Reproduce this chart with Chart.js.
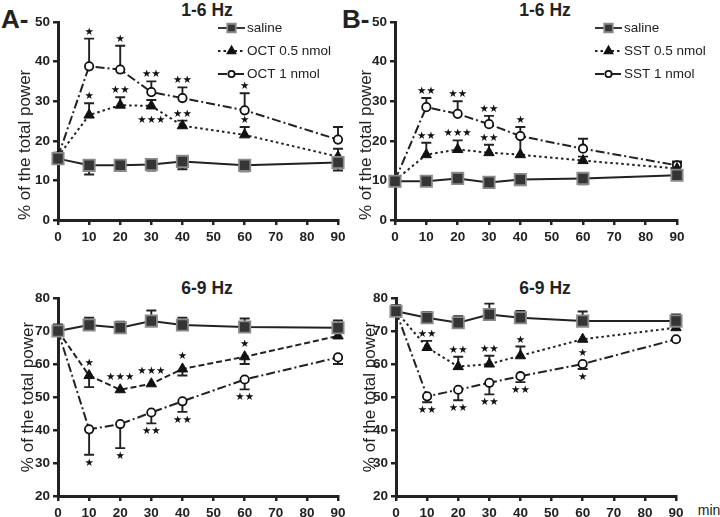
<!DOCTYPE html>
<html>
<head>
<meta charset="utf-8">
<script src="https://cdn.jsdelivr.net/npm/chart.js@4.4.1/dist/chart.umd.min.js"></script>
<style>
  body { margin: 0; background: #fff; width: 720px; height: 517px; position: relative; overflow: hidden;
         font-family: "Liberation Sans", Arial, sans-serif; color: #222; }
  .box { position: absolute; }
  .ttl { position: absolute; font-weight: bold; font-size: 17.5px; transform: translate(-50%, -50%); white-space: nowrap; }
  .lab { position: absolute; font-weight: bold; font-size: 26px; line-height: 26px; }
  .min { position: absolute; font-size: 14px; transform: translate(-50%, -50%); }
</style>
</head>
<body>
<div class="lab" style="left:1px; top:6px;">A-</div>
<div class="lab" style="left:342px; top:6px;">B-</div>
<div class="ttl" style="left:207px; top:10px;">1-6 Hz</div>
<div class="ttl" style="left:545px; top:10px;">1-6 Hz</div>
<div class="ttl" style="left:207px; top:288px;">6-9 Hz</div>
<div class="ttl" style="left:545px; top:288px;">6-9 Hz</div>
<div class="min" style="left:709px; top:510px;">min</div>

<div class="box" style="left:11px; top:0px;"><canvas id="a16" width="349" height="250"></canvas></div>
<div class="box" style="left:352px; top:0px;"><canvas id="b16" width="368" height="250"></canvas></div>
<div class="box" style="left:14px; top:250px;"><canvas id="a69" width="346" height="267"></canvas></div>
<div class="box" style="left:356px; top:250px;"><canvas id="b69" width="364" height="267"></canvas></div>

<script>
var minutes = [0, 10, 20, 30, 40, 60, 90];

// A - OCT, 1-6 Hz
var salineA16 = [15.5, 13.8, 13.8, 14.0, 14.8, 13.8, 14.5];
var salineA16Err = [1.5, -2.3, -1.2, -1.5, -2.0, -1.5, -2.0];
var oct05A16 = [16.0, 26.5, 29.0, 28.8, 23.8, 21.5, 16.0];
var oct05A16Err = [0, 3.0, 2.0, 1.5, 1.3, 2.0, 2.0];
var oct05A16Stars = ['', '★', '★★', '★★★', '★★', '★', ''];
var oct05A16Side = ['', 'u', 'u', 'd', 'u', 'u', ''];
var oct1A16 = [16.0, 38.8, 38.0, 32.3, 30.8, 27.7, 20.3];
var oct1A16Err = [0, 7.0, 6.0, 2.7, 2.7, 4.3, 3.2];
var oct1A16Stars = ['', '★', '★', '★★', '★★', '★', ''];
var oct1A16Side = ['', 'u', 'u', 'u', 'u', 'u', ''];

// B - SST, 1-6 Hz
var salineB16 = [9.8, 9.8, 10.5, 9.5, 10.2, 10.5, 11.3];
var salineB16Err = [-1.0, -1.2, -0.8, -1.3, -1.0, -1.5, 3.5];
var sst05B16 = [10.0, 16.5, 17.8, 17.0, 16.5, 15.0, 13.0];
var sst05B16Err = [0, 3.0, 2.3, 2.0, 4.5, 1.0, 1.5];
var sst05B16Stars = ['', '★★', '★★★', '★★', '', '', ''];
var sst05B16Side = ['', 'u', 'u', 'u', '', '', ''];
var sst1B16 = [10.0, 28.5, 26.8, 24.2, 21.2, 18.0, 13.8];
var sst1B16Err = [0, 2.3, 3.2, 2.1, 2.3, 2.5, 0.8];
var sst1B16Stars = ['', '★★', '★★', '★★', '★', '', ''];
var sst1B16Side = ['', 'u', 'u', 'u', 'u', '', ''];

// A - OCT, 6-9 Hz
var salineA69 = [70.0, 71.8, 71.0, 73.0, 71.8, 71.2, 71.0];
var salineA69Err = [2.0, 2.2, 1.8, 3.2, 2.2, 2.6, 2.2];
var oct05A69 = [70.0, 56.5, 52.2, 54.0, 58.5, 62.2, 68.5];
var oct05A69Err = [0, -3.5, 0, 0, -2.0, -2.2, 0];
var oct05A69Stars = ['', '★', '★★★', '★★★', '★', '★', ''];
var oct05A69Side = ['', 'u', 'u', 'u', 'u', 'u', ''];
var oct1A69 = [70.0, 40.2, 41.8, 45.3, 48.7, 55.3, 62.0];
var oct1A69Err = [0, -7.7, -7.3, -3.3, -3.2, -3.0, -2.0];
var oct1A69Stars = ['', '★', '★', '★★', '★★', '★★', ''];
var oct1A69Side = ['', 'd', 'd', 'd', 'd', 'd', ''];

// B - SST, 6-9 Hz
var salineB69 = [76.0, 74.0, 72.5, 75.0, 74.0, 73.0, 73.0];
var salineB69Err = [1.8, 1.8, 2.0, 3.3, 2.1, 2.9, 2.0];
var sst05B69 = [76.0, 65.0, 59.2, 60.0, 62.5, 67.5, 71.0];
var sst05B69Err = [0, 2.0, 3.0, 2.5, 2.8, 0, 0];
var sst05B69Stars = ['', '★★', '★★', '★★', '★', '★', ''];
var sst05B69Side = ['', 'u', 'u', 'u', 'u', 'd', ''];
var sst1B69 = [76.0, 50.2, 52.2, 54.3, 56.3, 60.0, 67.5];
var sst1B69Err = [0, -1.8, -3.2, -3.5, -1.8, -1.5, 0];
var sst1B69Stars = ['', '★★', '★★', '★★', '★★', '★', ''];
var sst1B69Side = ['', 'd', 'd', 'd', 'd', 'd', ''];

var yTicks16 = [0, 50];
var yTicks69 = [20, 80];

var FONT = '"Liberation Sans", Arial, sans-serif';
var INK = '#222';

var salineStyle = { pointStyle: 'rect', pointRadius: 8, pointBackgroundColor: '#353535', pointBorderColor: '#8a8a8a', pointBorderWidth: 1.8, borderDash: [] };
var lowStyle = { pointStyle: 'triangle', pointRadius: 6, pointBackgroundColor: '#111', pointBorderColor: '#111', pointBorderWidth: 1, borderDash: [2.5, 3] };
var highStyle = { pointStyle: 'circle', pointRadius: 4.2, pointBackgroundColor: '#fff', pointBorderColor: '#111', pointBorderWidth: 1.8, borderDash: [9, 3, 2, 3] };

function series(label, vals, errs, stars, sides, style) {
  var ds = {
    label: label,
    data: vals.map(function(v, i) { return { x: minutes[i], y: v }; }),
    vals: vals, errs: errs, stars: stars || [], sides: sides || [],
    borderColor: INK, borderWidth: 2, tension: 0, clip: false, showLine: true
  };
  for (var k in style) ds[k] = style[k];
  return ds;
}

// error bars, significance stars and the small legend
var panelMarks = {
  id: 'panelMarks',
  beforeDatasetsDraw: function(chart) {
    var ctx = chart.ctx, xs = chart.scales.x, ys = chart.scales.y;
    ctx.save();
    ctx.strokeStyle = INK; ctx.lineWidth = 1.9; ctx.setLineDash([]);
    chart.data.datasets.forEach(function(ds) {
      ds.errs.forEach(function(e, i) {
        if (!e) return;
        var x = xs.getPixelForValue(minutes[i]);
        var y0 = ys.getPixelForValue(ds.vals[i]);
        var y1 = ys.getPixelForValue(ds.vals[i] + e);
        ctx.beginPath();
        ctx.moveTo(x, y0); ctx.lineTo(x, y1);
        ctx.moveTo(x - 5, y1); ctx.lineTo(x + 5, y1);
        ctx.stroke();
      });
    });
    ctx.restore();
  },
  afterDatasetsDraw: function(chart) {
    var ctx = chart.ctx, xs = chart.scales.x, ys = chart.scales.y;
    ctx.save();
    ctx.font = '10.5px "DejaVu Sans"';
    ctx.textAlign = 'center';
    ctx.fillStyle = '#111';
    var m = ctx.measureText('★');
    var asc = m.actualBoundingBoxAscent, desc = m.actualBoundingBoxDescent;
    chart.data.datasets.forEach(function(ds) {
      ds.stars.forEach(function(s, i) {
        if (!s) return;
        var v = ds.vals[i], e = ds.errs[i] || 0;
        var x = xs.getPixelForValue(minutes[i]);
        var yA;
        if (ds.sides[i] === 'u') {
          yA = ys.getPixelForValue(Math.max(v, v + e)) - (e > 0 ? 3 : ds.pointRadius + 3);
          ctx.fillText(s, x, yA - desc);
        } else {
          yA = ys.getPixelForValue(Math.min(v, v + e)) + (e < 0 ? 3 : ds.pointRadius + 3);
          ctx.fillText(s, x, yA + asc);
        }
      });
    });
    ctx.restore();
  },
  afterDraw: function(chart, args, opts) {
    if (!opts.legend) return;
    var ctx = chart.ctx, lg = opts.legend;
    ctx.save();
    chart.data.datasets.forEach(function(ds, i) {
      var y = lg.y + i * 23;
      ctx.strokeStyle = INK; ctx.lineWidth = 1.8;
      ctx.setLineDash(ds.borderDash);
      ctx.beginPath(); ctx.moveTo(lg.x, y); ctx.lineTo(lg.x + 27, y); ctx.stroke();
      ctx.setLineDash([]);
      ctx.fillStyle = ds.pointBackgroundColor;
      ctx.strokeStyle = ds.pointBorderColor;
      Chart.helpers.drawPoint(ctx, { pointStyle: ds.pointStyle, radius: ds.pointRadius * 0.75, borderWidth: ds.pointBorderWidth, rotation: 0 }, lg.x + 13.5, y);
      ctx.fillStyle = INK;
      ctx.font = '13.5px ' + FONT;
      ctx.textAlign = 'left'; ctx.textBaseline = 'middle';
      ctx.fillText(ds.label, lg.x + 29, y);
    });
    ctx.restore();
  }
};

function panel(id, datasets, yRange, yWidth, xHeight, pad, titleAlign, legend) {
  var tickFont = { family: FONT, size: 13.5, weight: 'bold' };
  var grid = { display: true, drawOnChartArea: false, drawTicks: true, tickLength: 5, lineWidth: 2.5, color: INK };
  var border = { display: true, width: 3, color: INK };
  return new Chart(document.getElementById(id), {
    type: 'line',
    data: { datasets: datasets },
    options: {
      responsive: false, animation: false, devicePixelRatio: 1,
      layout: { padding: pad },
      plugins: { legend: { display: false }, tooltip: { enabled: false }, panelMarks: { legend: legend } },
      scales: {
        x: {
          type: 'linear', min: 0, max: 90,
          ticks: { stepSize: 10, font: tickFont, color: INK, padding: 4, maxRotation: 0 },
          grid: grid, border: border,
          afterFit: function(s) { s.height = xHeight; }
        },
        y: {
          type: 'linear', min: yRange[0], max: yRange[1],
          ticks: { stepSize: 10, font: tickFont, color: INK, padding: 3 },
          grid: grid, border: border,
          title: { display: true, text: '% of the total power', align: titleAlign, color: INK,
                   font: { family: FONT, size: 17 }, padding: { top: 4, bottom: 0 } },
          afterFit: function(s) { s.width = yWidth; }
        }
      }
    },
    plugins: [panelMarks]
  });
}

panel('a16', [
  series('saline', salineA16, salineA16Err, null, null, salineStyle),
  series('OCT 0.5 nmol', oct05A16, oct05A16Err, oct05A16Stars, oct05A16Side, lowStyle),
  series('OCT 1 nmol', oct1A16, oct1A16Err, oct1A16Stars, oct1A16Side, highStyle)
], yTicks16, 47, 30, { left: 0, right: 22, top: 22, bottom: 0 }, 'start', { x: 207, y: 28 });

panel('b16', [
  series('saline', salineB16, salineB16Err, null, null, salineStyle),
  series('SST 0.5 nmol', sst05B16, sst05B16Err, sst05B16Stars, sst05B16Side, lowStyle),
  series('SST 1 nmol', sst1B16, sst1B16Err, sst1B16Stars, sst1B16Side, highStyle)
], yTicks16, 43, 30, { left: 0, right: 43, top: 22, bottom: 0 }, 'start', { x: 243, y: 28 });

var lowDashed = {};
for (var k in lowStyle) lowDashed[k] = lowStyle[k];
lowDashed.borderDash = [6, 3];

panel('a69', [
  series('saline', salineA69, salineA69Err, null, null, salineStyle),
  series('OCT 0.5 nmol', oct05A69, oct05A69Err, oct05A69Stars, oct05A69Side, lowDashed),
  series('OCT 1 nmol', oct1A69, oct1A69Err, oct1A69Stars, oct1A69Side, highStyle)
], yTicks69, 44, 21, { left: 0, right: 22, top: 48, bottom: 0 }, 'center', null);

panel('b69', [
  series('saline', salineB69, salineB69Err, null, null, salineStyle),
  series('SST 0.5 nmol', sst05B69, sst05B69Err, sst05B69Stars, sst05B69Side, lowStyle),
  series('SST 1 nmol', sst1B69, sst1B69Err, sst1B69Stars, sst1B69Side, highStyle)
], yTicks69, 40, 21, { left: 0, right: 44, top: 48, bottom: 0 }, 'center', null);
</script>
</body>
</html>
